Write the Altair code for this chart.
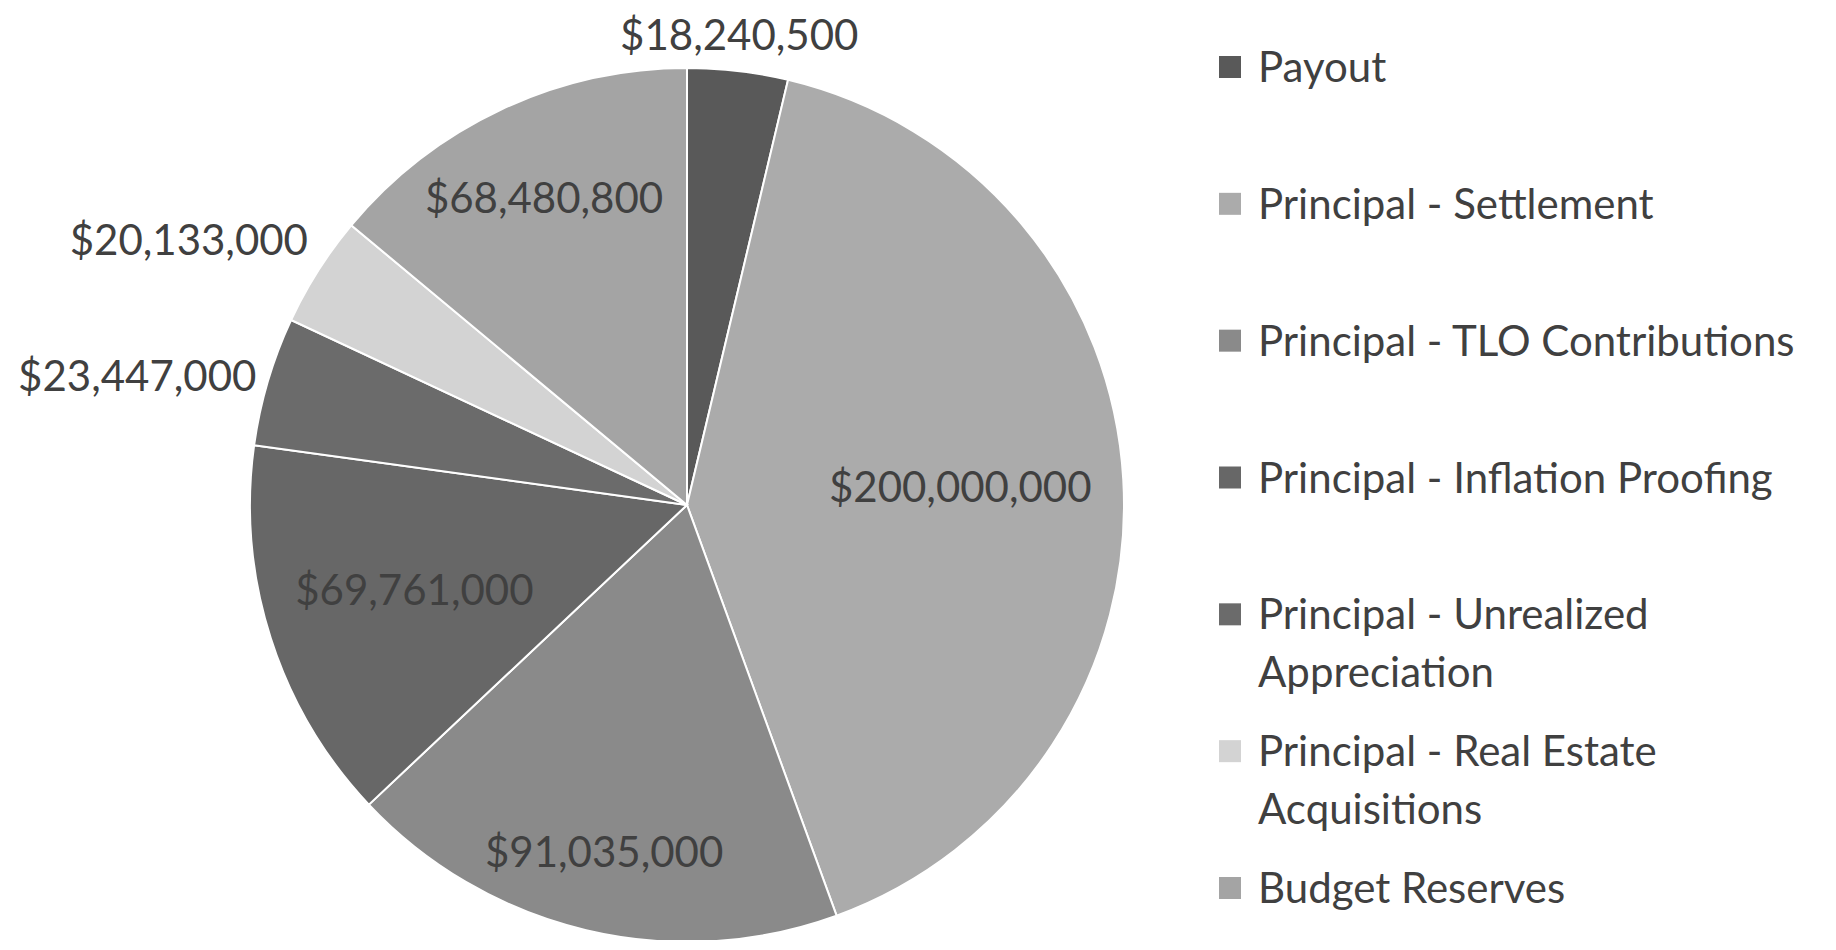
import textwrap
import altair as alt
import numpy as np
import pandas as pd

# ---- data ----
categories = [
    "Payout",
    "Principal - Settlement",
    "Principal - TLO Contributions",
    "Principal - Inflation Proofing",
    "Principal - Unrealized Appreciation",
    "Principal - Real Estate Acquisitions",
    "Budget Reserves",
]
values = [18240500, 200000000, 91035000, 69761000, 23447000, 20133000, 68480800]
colors = ["#595959", "#ababab", "#8a8a8a", "#676767", "#6b6b6b", "#d3d3d3", "#a4a4a4"]

# ---- layout / style ----
FONT = "Lato"
FS = 42
TEXT_COLOR = "#404040"
R = 437            # pie radius (px)
CX, CY = 679, 497  # pie centre inside the view
W, H = 1820, 932
OUT_GAP = 12

df = pd.DataFrame({"category": categories, "value": values, "order": range(len(categories))})
total = df["value"].sum()
share = df["value"] / total
df["mid_value"] = df["value"].cumsum() - df["value"] / 2   # middle of each slice (stacked)
mid = df["mid_value"] / total * 2 * np.pi
df["label"] = df["value"].map(lambda v: f"${v:,.0f}")
n_commas = df["label"].str.count(",")
text_w = FS * (0.58 * (df["label"].str.len() - n_commas) + 0.25 * n_commas)
support = np.abs(np.sin(mid)) * text_w / 2 + np.abs(np.cos(mid)) * FS / 2
outside = share < 0.06
df["rho"] = np.where(outside, R + OUT_GAP, R - 30 - support)
s, c = np.sin(mid), np.cos(mid)
df["align"] = np.where(~outside, "center",
                       np.where(s < -0.5, "right", np.where(s > 0.5, "left", "center")))
df["baseline"] = np.where(~outside, "middle",
                          np.where(c > 0.5, "bottom", np.where(c < -0.5, "top", "middle")))
df["anchor"] = df["align"] + "-" + df["baseline"]
df["legend"] = ["\n".join(textwrap.wrap(cat, 31)) for cat in categories]

color = alt.Color("category:N", scale=alt.Scale(domain=categories, range=colors), legend=None)
theta_scale = alt.Scale(domain=[0, float(total)])

base = alt.Chart(df)

pie = base.mark_arc(outerRadius=R, stroke="white", strokeWidth=2).encode(
    theta=alt.Theta("value:Q", stack=True, scale=theta_scale),
    color=color, order=alt.Order("order:Q"),
    x=alt.value(CX), y=alt.value(CY),
)

label_layers = []
for anchor in df["anchor"].unique():
    al, bl = anchor.split("-")
    label_layers.append(
        base.transform_filter(alt.datum.anchor == anchor)
        .mark_text(font=FONT, fontSize=FS, color=TEXT_COLOR, align=al, baseline=bl)
        .encode(
            theta=alt.Theta("mid_value:Q", stack=None, scale=theta_scale),
            radius=alt.Radius("rho:Q", scale=None),
            text="label:N",
            x=alt.value(CX), y=alt.value(CY),
        )
    )

leg_y = alt.Y("category:N", sort=categories,
              scale=alt.Scale(type="point", domain=categories, range=[59, 880], padding=0),
              axis=None)

leg_sym = base.mark_square(size=484, opacity=1).encode(
    y=leg_y, x=alt.value(1222), color=color,
)

leg_txt = base.mark_text(font=FONT, fontSize=FS, color=TEXT_COLOR, align="left",
                         baseline="alphabetic", dy=15, lineBreak="\n", lineHeight=58).encode(
    y=leg_y, x=alt.value(1250), text="legend:N",
)

chart = alt.layer(pie, *label_layers, leg_sym, leg_txt).properties(
    width=W, height=H, padding=0,
    autosize=alt.AutoSizeParams(type="none"),
).configure_view(stroke=None)

chart.save("out.html", embed_options={"renderer": "svg", "actions": False})
